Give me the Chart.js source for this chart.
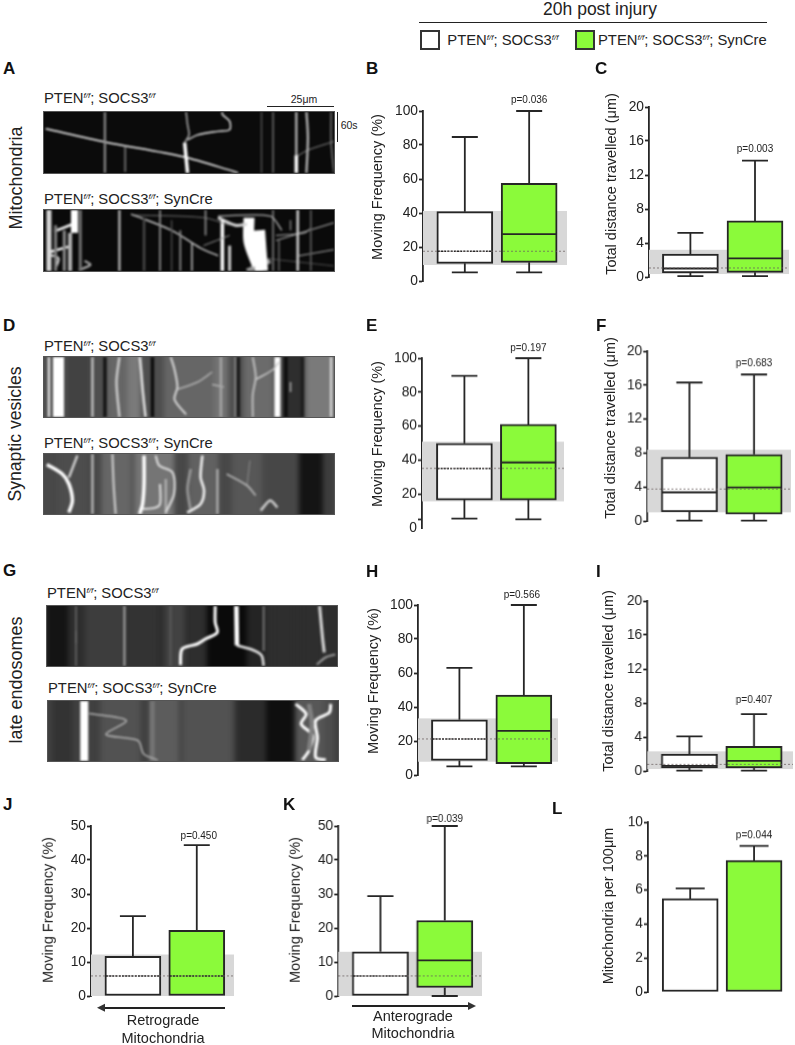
<!DOCTYPE html>
<html>
<head>
<meta charset="utf-8">
<title>20h post injury</title>
<script src="https://cdn.jsdelivr.net/npm/chart.js@4"></script>
<style>
  html, body { margin: 0; padding: 0; background: #fff; }
  body { position: relative; width: 795px; height: 1045px; overflow: hidden; font-family: "Liberation Sans", Arial, sans-serif; color: #222; }
  canvas { position: absolute; }
  .t { position: absolute; white-space: nowrap; transform: translateY(-50%); line-height: 1; }
  .c { transform: translate(-50%, -50%); }
  .r { transform: translate(-50%, -50%) rotate(-90deg); }
  .letter { font-weight: bold; font-size: 17px; color: #111; }
  .geno { font-size: 14.8px; }
  .geno sup { font-size: 8px; font-style: italic; vertical-align: 5px; line-height: 0; }
  .kymo { position: absolute; box-sizing: content-box; border: 1px solid #555; overflow: hidden; }
  .kymo canvas.tracks { filter: blur(1px); }
  .kymo canvas.stripes { filter: blur(2.5px); }
  .rule { position: absolute; background: #222; }
  .swatch { position: absolute; box-sizing: border-box; width: 20px; height: 20px; border: 2px solid #333; }
</style>
</head>
<body>
<script>
// colours
const DARK = '#262626';
const GREEN = '#8BFA3A';
const BAND = '#d8d8d8';

// y axis ticks
const freqTicks = [0, 20, 40, 60, 80, 100];
const freqTicksE = [0, 5, 20, 40, 60, 80, 100];
const distTicks = [0, 4, 8, 12, 16, 20];
const dirTicks = [0, 10, 20, 30, 40, 50];
const mitoTicks = [0, 2, 4, 6, 8, 10];

// box values: low whisker, q1, median, q3, high whisker
const bCtrl = [5.1, 10.4, 17.5, 40.8, 84.7];
const bCre = [5.1, 11, 27.6, 57.5, 100];
const cCtrl = [0.1, 0.47, 1.0, 2.7, 5.2];
const cCre = [0.1, 0.55, 2.2, 6.6, 13.7];
const eCtrl = [5.5, 16.5, 35.1, 49.8, 89.6];
const eCre = [5.1, 16.5, 38.6, 61, 100];
const fCtrl = [0.05, 1.06, 3.37, 7.5, 16.3];
const fCre = [0.05, 0.82, 3.96, 7.84, 17.25];
const hCtrl = [5.1, 8.6, 21.2, 32.5, 63];
const hCre = [5.1, 6.7, 26, 47, 100];
const iCtrl = [0.05, 0.35, 0.6, 2.0, 4.08];
const iCre = [0.05, 0.35, 1.2, 2.9, 6.7];
const jCtrl = [null, 0, 5.9, 11.7, 23.5];
const jCre = [null, 0, 5.9, 19.3, 44.4];
const kCtrl = [null, 0, 5.9, 13, 29.4];
const kCre = [0, 2.5, 10.5, 22.2, 50];

// control group spread behind the boxes: q1, median, q3
const bBand = [9.4, 17.5, 41.2];
const cBand = [0.35, 1.06, 3.2];
const eBand = [15.7, 35.1, 50.8];
const fBand = [1.02, 3.76, 8.39];
const hBand = [7.8, 21.2, 33.3];
const iBand = [0.23, 0.78, 2.31];
const jBand = [0, 5.9, 12.2];
const kBand = [0, 5.9, 13];

// panel L: mean and error top
const lMeans = [5.5, 7.75];
const lErrors = [6.1, 8.6];

// kymograph tracks: [% of axon length, seconds]
const a1Tracks = [
  [[21,0],[21,120]], [[28,68],[28,118]], [[49,0],[49.5,25],[50,45],[48.5,60]], [[48.5,60],[49,90],[49.5,120]],
  [[49.5,55],[53,45],[60,38],[64,35],[64,18],[61.5,5],[61.5,0]], [[0.6,33],[21,59],[48,88],[65.5,117],[67,120]],
  [[75,0],[75,120]], [[79,0],[79,120]], [[87,0],[87,85]], [[87,85],[87,120]], [[90.5,0],[91,50],[90.5,120]],
  [[99,0],[99,60],[100,120]], [[87,88],[91,75],[100,58]]
];
const a1Widths = [2.2, 1.8, 1.4, 3.5, 1.4, 1.4, 1.3, 1.6, 2.2, 3.5, 2.2, 1.4, 0.9];
const a1Grays = [0.55, 0.45, 0.75, 1, 0.95, 1, 0.35, 0.42, 0.75, 1, 0.75, 0.5, 0.6];

const a2Tracks = [
  [[1.7,0],[1.7,120]], [[4,30],[4,120]], [[7,40],[7,120]], [[10.5,0],[10.5,45]], [[9,45],[9,120]], [[3.5,42],[9.8,28]], [[2.3,82],[8.6,72]],
  [[12.5,0],[12.5,120]], [[2,88],[5,95],[4,115]], [[14,100],[16,108],[12,118]], [[26,0],[26,120]], [[34.5,15],[34.5,120]],
  [[40,0],[40,120]], [[44,20],[44,120]], [[47,40],[47,120]], [[51,65],[51,120]], [[55.7,0],[55.7,50]], [[30,8],[44,40],[54,75],[60,90]],
  [[31,10],[55,15],[64,30]], [[55,70],[64,50]], [[61.5,20],[61.5,120]], [[64,70],[64,120]], [[60,15],[66,30],[70,28]], [[70.7,15],[70.7,62],[73.6,109]],
  [[74,40],[75,120]], [[70,120],[78,100]], [[60,12],[78,12],[82,40]], [[79,0],[79,120]], [[81,60],[81,120]], [[87.5,0],[87.5,120]], [[85,20],[85,40]], [[92,0],[92,120]],
  [[80,60],[100,25]], [[80,50],[90,45],[92,35]], [[88,90],[100,78]], [[76,95],[100,110]]
];
const a2Widths = [5, 3, 3, 7, 4, 2.5, 2.5, 3, 2, 2, 2.2, 2.5, 1.8, 1.4, 1.8, 1.8, 1.8, 1.4, 0.9, 1, 3.5, 3, 3, 11, 13, 5, 1.3, 1.8, 1.8, 2.6, 1.5, 1.8, 1, 1, 1, 0.8];
const a2Grays = [0.85, 0.5, 0.55, 1, 0.7, 1, 1, 0.45, 0.9, 0.7, 0.75, 0.28, 0.55, 0.3, 0.55, 0.65, 0.55, 0.8, 0.5, 0.6, 1, 0.8, 0.85, 1, 1, 0.6, 0.7, 0.45, 0.35, 0.8, 0.5, 0.35, 0.75, 0.7, 0.7, 0.4];

const d1Tracks = [
  [[21,0],[21,120]], [[37.4,0],[37.4,120]], [[67,0],[67,120]], [[83.4,0],[83.4,120]], [[89,0],[89,120]], [[5,0],[5,120]], [[1.7,0],[1.7,120]], [[16.7,0],[16.7,120]], [[26,0],[25,50],[26,120]],
  [[33,0],[33.5,30],[34,65],[35,120]], [[43.7,0],[45,25],[46,60],[45,85],[49,115]], [[46,65],[53,50],[58,30]], [[61,0],[61,120]],
  [[58,55],[62,60]], [[66,0],[66,120]], [[72,0],[73,40],[72,75],[72,120]], [[73,45],[79,25],[81,10]], [[80.5,0],[80.5,120]], [[99,0],[99,120]], [[85,50],[85,70]]
];
const d1Widths = [3.5, 3.5, 3.5, 3.5, 3, 11, 2.5, 2.5, 2.5, 2.5, 2, 1.5, 2.5, 1.5, 1.8, 2, 1.5, 6, 2.5, 1.5];
const d1Grays = [0.08, 0.05, 0.1, 0.05, 0.1, 1, 0.9, 0.75, 0.8, 0.9, 0.85, 0.7, 0.65, 0.7, 0.55, 0.75, 0.8, 1, 0.85, 0.7];
const d1StripeX = [12, 25, 31, 50, 60, 74, 86, 95];
const d1StripeW = [24, 20, 14, 50, 20, 30, 22, 30];
const d1StripeG = [0.26, 0.4, 0.48, 0.4, 0.45, 0.42, 0.18, 0.48];

const d2Tracks = [
  [[1,21],[6.3,40],[8.6,60],[9.8,93],[8.6,117]], [[11.5,3],[8.6,47]], [[16.7,0],[16.7,120]],
  [[23.6,0],[24,60],[24.7,120]], [[34.5,3],[34.5,60],[34,100],[33,120]], [[33,110],[38,108],[40,100],[40,60]], [[38.5,3],[39.7,23],[44.3,37],[44.8,80],[42,117]],
  [[42,50],[42,120]], [[54.6,3],[54,47],[55.2,73],[54,100],[49.4,117]], [[50.6,30],[49.5,70],[50.5,110]], [[59.8,30],[59.8,120]], [[63,40],[70,63],[73,83]],
  [[71,13],[70,63]], [[74.7,113],[78,93],[80.5,107]]
];
const d2Widths = [3.5, 2.2, 2.5, 2.2, 3.5, 2.2, 2.2, 2.2, 2.6, 2.6, 2.2, 1.8, 1.3, 2.6];
const d2Grays = [1, 0.85, 0.7, 0.8, 1, 0.85, 0.85, 0.7, 0.95, 0.6, 0.7, 0.7, 0.5, 0.8];
const d2StripeX = [10, 25, 38, 55, 70, 82, 92, 98];
const d2StripeW = [30, 30, 40, 30, 30, 24, 24, 16];
const d2StripeG = [0.3, 0.4, 0.46, 0.38, 0.34, 0.28, 0.08, 0.24];

const g1Tracks = [
  [[10,0],[10,120]], [[10,50],[10,75]], [[26.7,0],[26.7,120]], [[42.6,0],[42.6,120]],
  [[58,0],[58,33],[58.7,53],[54.6,66],[51.8,76],[46.6,86],[46,118]], [[65.3,0],[65.5,79]], [[65.5,79],[71,88],[74,99],[74.7,120]], [[74.7,0],[74.7,90]],
  [[94,0],[95,63],[95.6,93]], [[93,117],[96,103],[99.4,97]]
];
const g1Widths = [1.8, 2, 2, 3, 3, 4.5, 2.5, 2, 3, 2];
const g1Grays = [0.38, 0.6, 0.65, 0.32, 1, 1, 0.9, 0.45, 0.85, 0.6];
const g1StripeX = [3, 20, 33, 44, 62, 72, 82, 92];
const g1StripeW = [25, 40, 30, 20, 40, 20, 20, 20];
const g1StripeG = [0.08, 0.24, 0.2, 0.26, 0.04, 0.14, 0.18, 0.18];

const g2Tracks = [
  [[12.5,0],[12.5,120]], [[14.2,25],[27,39],[20,67],[31,79],[33,106],[37.8,118]],
  [[36,0],[36,120]], [[90,6],[91,46],[90,99]], [[85.4,6],[89,26],[87.3,46],[91.3,69],[90,99],[87.7,118]],
  [[97.5,6],[97,23],[92.3,39],[92.9,73],[92.3,113],[95.8,118]]
];
const g2Widths = [8, 1.5, 5, 4.5, 3, 3];
const g2Grays = [1, 0.7, 0.45, 0.5, 1, 1];
const g2StripeX = [5, 25, 40, 55, 70, 80, 90, 97];
const g2StripeW = [20, 40, 30, 50, 30, 30, 30, 10];
const g2StripeG = [0.2, 0.32, 0.36, 0.32, 0.17, 0.06, 0.34, 0.3];

// draw whiskers, medians and the shaded control range through the y scale
const boxMarks = {
  id: 'boxMarks',
  beforeDatasetsDraw(chart, args, o) {
    if (!o.band) return;
    const { ctx, chartArea: a, scales: { y } } = chart;
    const top = y.getPixelForValue(o.band[2]), bot = y.getPixelForValue(o.band[0]);
    ctx.fillStyle = BAND;
    ctx.fillRect(a.left, top, a.right - a.left, bot - top);
  },
  afterDatasetsDraw(chart, args, o) {
    const { ctx, chartArea: a, scales: { x, y } } = chart;
    const px = v => y.getPixelForValue(v);
    ctx.save();
    ctx.strokeStyle = DARK;
    o.groups.forEach((g, i) => {
      const cx = x.getPixelForValue(i + 1);
      const hw = o.capWidth / 2;
      ctx.lineWidth = 1.8;
      ctx.beginPath();
      ctx.moveTo(cx, px(g[3])); ctx.lineTo(cx, px(g[4]));
      ctx.moveTo(cx - hw, px(g[4])); ctx.lineTo(cx + hw, px(g[4]));
      if (g[0] !== null) {
        ctx.moveTo(cx, px(g[1])); ctx.lineTo(cx, px(g[0]));
        ctx.moveTo(cx - hw, px(g[0])); ctx.lineTo(cx + hw, px(g[0]));
      }
      ctx.stroke();
      if (g[2] !== null) {
        // median that sits on the control median is dotted in the figure
        const onRef = o.band && g[2] === o.band[1];
        ctx.lineWidth = onRef ? 1.4 : 1.8;
        ctx.setLineDash(onRef ? [2, 1.2] : []);
        ctx.beginPath();
        ctx.moveTo(cx - 27, px(g[2])); ctx.lineTo(cx + 27, px(g[2]));
        ctx.stroke();
        ctx.setLineDash([]);
      }
    });
    if (o.band) {
      ctx.strokeStyle = 'rgba(105,95,95,0.75)';
      ctx.lineWidth = 1;
      ctx.setLineDash([2, 2]);
      ctx.beginPath();
      ctx.moveTo(a.left, px(o.band[1])); ctx.lineTo(a.right, px(o.band[1]));
      ctx.stroke();
      ctx.setLineDash([]);
    }
    // p value above the second group
    ctx.fillStyle = '#222';
    ctx.font = '10px "Liberation Sans", Arial, sans-serif';
    ctx.textAlign = 'center';
    ctx.textBaseline = 'middle';
    ctx.fillText(o.pLabel, x.getPixelForValue(2) + o.pShift, px(o.groups[1][4]) - o.pGap);
    ctx.restore();
  }
};

const AXIS_W = 60;
const PAD_T = 30, PAD_B = 10;

function addCanvas(left, top, w, h, parent) {
  const c = document.createElement('canvas');
  c.width = w; c.height = h;
  c.style.left = left + 'px'; c.style.top = top + 'px';
  c.style.width = w + 'px'; c.style.height = h + 'px';
  (parent || document.body).appendChild(c);
  return c;
}

// g: axis x, right end of plot, y pixel of axis max, y pixel of 0, centres of the two boxes
function boxPanel(groups, band, ticks, yMax, pLabel, g) {
  const unit = g.c2 - g.c1;
  const w = AXIS_W + (g.right - g.axis) + 2;
  const h = PAD_T + (g.bottom - g.top) + PAD_B;
  const cv = addCanvas(g.axis - AXIS_W, g.top - PAD_T, w, h);
  new Chart(cv, {
    type: 'bar',
    plugins: [boxMarks],
    data: {
      datasets: [{
        data: groups.map((v, i) => ({ x: i + 1, y: [v[1], v[3]] })),
        backgroundColor: ['#ffffff', GREEN],
        borderColor: DARK,
        borderWidth: 2,
        borderSkipped: false,
        barThickness: 56
      }]
    },
    options: {
      responsive: false,
      animation: false,
      layout: { padding: { top: PAD_T, bottom: PAD_B, right: 2, left: 0 } },
      plugins: {
        legend: { display: false },
        tooltip: { enabled: false },
        boxMarks: { groups, band, pLabel, capWidth: g.cap || 26, pGap: g.pGap, pShift: g.pShift || 0 }
      },
      scales: {
        x: {
          type: 'linear', display: false, offset: false,
          min: 1 - (g.c1 - g.axis) / unit,
          max: 2 + (g.right - g.c2) / unit
        },
        y: {
          min: 0, max: yMax,
          afterFit: s => { s.width = AXIS_W; },
          afterBuildTicks: s => { s.ticks = ticks.map(v => ({ value: v })); },
          border: { color: DARK, width: 1.8 },
          grid: {
            drawOnChartArea: false, tickLength: 4, tickWidth: 1.8,
            // panel E has its bottom tick mark above the 0 label
            tickColor: c => (ticks === freqTicksE && c.tick.value === 0 ? 'transparent' : DARK)
          },
          ticks: {
            color: '#222', padding: 1, autoSkip: false,
            font: { family: '"Liberation Sans", Arial, sans-serif', size: 13.8 },
            callback: v => (ticks === freqTicksE && v === 5 ? '' : v)
          }
        }
      }
    }
  });
}

function trackChart(cv, tracks, widths, grays) {
  new Chart(cv, {
    type: 'line',
    data: {
      datasets: tracks.map((t, i) => {
        const v = Math.round(grays[i] * 255);
        return {
          data: t.map(p => ({ x: p[0], y: p[1] })),
          borderColor: `rgb(${v},${v},${v})`,
          borderWidth: widths[i],
          pointRadius: 0,
          tension: 0.3
        };
      })
    },
    options: {
      responsive: false,
      animation: false,
      plugins: { legend: { display: false }, tooltip: { enabled: false } },
      scales: {
        x: { type: 'linear', display: false, min: 0, max: 100 },
        y: { display: false, min: 0, max: 120, reverse: true }
      }
    }
  });
}

function kymo(tracks, widths, grays, bg, g, stripeX, stripeW, stripeG) {
  const wrap = document.createElement('div');
  wrap.className = 'kymo';
  wrap.style.cssText = `left:${g.left}px;top:${g.top}px;width:${g.w}px;height:${g.h}px;background:${bg}`;
  document.body.appendChild(wrap);
  if (stripeX) {
    // wide soft background bands, canvas overshoots so the blur does not fade at the edges
    const sc = addCanvas(0, -8, g.w, g.h + 16, wrap);
    sc.className = 'stripes';
    trackChart(sc, stripeX.map(x => [[x, 0], [x, 120]]), stripeW, stripeG);
  }
  const cv = addCanvas(0, 0, g.w, g.h, wrap);
  cv.className = 'tracks';
  trackChart(cv, tracks, widths, grays);
}

kymo(a1Tracks, a1Widths, a1Grays, '#0b0b0b', { left: 43, top: 111, w: 290, h: 61 });
kymo(a2Tracks, a2Widths, a2Grays, '#0a0a0a', { left: 43, top: 209, w: 290, h: 61 });
kymo(d1Tracks, d1Widths, d1Grays, '#4f4f4f', { left: 43, top: 356, w: 290, h: 60 }, d1StripeX, d1StripeW, d1StripeG);
kymo(d2Tracks, d2Widths, d2Grays, '#484848', { left: 43, top: 453, w: 290, h: 60 }, d2StripeX, d2StripeW, d2StripeG);
kymo(g1Tracks, g1Widths, g1Grays, '#2e2e2e', { left: 46, top: 605, w: 290, h: 60 }, g1StripeX, g1StripeW, g1StripeG);
kymo(g2Tracks, g2Widths, g2Grays, '#404040', { left: 47, top: 700, w: 290, h: 60 }, g2StripeX, g2StripeW, g2StripeG);

boxPanel([bCtrl, bCre], bBand, freqTicks, 100, 'p=0.036', { axis: 422.7, right: 567.3, top: 111, bottom: 281, c1: 464.7, c2: 529.3, pGap: 11 });
boxPanel([cCtrl, cCre], cBand, distTicks, 20, 'p=0.003', { axis: 649.3, right: 789.3, top: 107.3, bottom: 277.3, c1: 690.7, c2: 755.3, pGap: 11 });
boxPanel([eCtrl, eCre], eBand, freqTicksE, 100, 'p=0.197', { axis: 421.7, right: 564, top: 358.3, bottom: 528.3, c1: 464.2, c2: 528.3, pGap: 10 });
boxPanel([fCtrl, fCre], fBand, distTicks, 20, 'p=0.683', { axis: 647.3, right: 790.7, top: 351.3, bottom: 521.3, c1: 689.3, c2: 753.8, pGap: 11 });
boxPanel([hCtrl, hCre], hBand, freqTicks, 100, 'p=0.566', { axis: 417.7, right: 558.3, top: 605, bottom: 775, c1: 459.3, c2: 524, pGap: 10, pShift: -2 });
boxPanel([iCtrl, iCre], iBand, distTicks, 20, 'p=0.407', { axis: 647.3, right: 792.7, top: 601.3, bottom: 771.3, c1: 689.3, c2: 753.8, pGap: 14 });
boxPanel([jCtrl, jCre], jBand, dirTicks, 50, 'p=0.450', { axis: 90.7, right: 234, top: 825.7, bottom: 996, c1: 132.7, c2: 196.7, pGap: 9, pShift: 2 });
boxPanel([kCtrl, kCre], kBand, dirTicks, 50, 'p=0.039', { axis: 338.3, right: 481.7, top: 825.7, bottom: 995.7, c1: 380.3, c2: 444.5, pGap: 7 });
boxPanel(
  [[null, 0, null, lMeans[0], lErrors[0]], [null, 0, null, lMeans[1], lErrors[1]]],
  null, mitoTicks, 10, 'p=0.044',
  { axis: 647.7, right: 784, top: 822.3, bottom: 992, c1: 690, c2: 754, cap: 29, pGap: 10 }
);

// text and small furniture around the charts
const SUP = '<sup>f/f</sup>';
const GENO1 = `PTEN${SUP}; SOCS3${SUP}`;
const GENO2 = `PTEN${SUP}; SOCS3${SUP}; SynCre`;

function text(html, x, y, cls, css) {
  const d = document.createElement('div');
  d.className = 't ' + (cls || '');
  d.innerHTML = html;
  d.style.left = x + 'px';
  d.style.top = y + 'px';
  if (css) d.style.cssText += css;
  document.body.appendChild(d);
}
function rule(x, y, w, h) {
  const d = document.createElement('div');
  d.className = 'rule';
  d.style.cssText = `left:${x}px;top:${y}px;width:${w}px;height:${h}px`;
  document.body.appendChild(d);
}

text('20h post injury', 600, 10, 'c', 'font-size:17.5px');
rule(419.3, 21.6, 347.4, 1.5);
[[419.7, '#fff'], [575, GREEN]].forEach(s => {
  const d = document.createElement('div');
  d.className = 'swatch';
  d.style.cssText = `left:${s[0]}px;top:29.5px;background:${s[1]}`;
  document.body.appendChild(d);
});
text(GENO1, 447.3, 40, 'geno');
text(GENO2, 598, 40, 'geno');

[['A', 3, 68], ['B', 366, 68], ['C', 595, 68], ['D', 3, 325], ['E', 366, 325], ['F', 596, 325],
 ['G', 3, 570], ['H', 366, 571], ['I', 596, 571], ['J', 3, 804], ['K', 283, 804], ['L', 552, 808]]
  .forEach(l => text(l[0], l[1], l[2], 'letter'));

text(GENO1, 44, 98, 'geno');
text(GENO2, 44, 199.3, 'geno');
text(GENO1, 44, 346, 'geno');
text(GENO2, 44, 443.3, 'geno');
text(GENO1, 47, 593.3, 'geno');
text(GENO2, 48, 688.3, 'geno');

text('Mitochondria', 16, 178, 'r', 'font-size:18px');
text('Synaptic vesicles', 16, 434, 'r', 'font-size:17.6px');
text('late endosomes', 16, 680, 'r', 'font-size:18px');

// scale bars on the first kymograph
rule(266.7, 105.5, 67.3, 1.3);
text('25&#956;m', 304, 98.7, 'c', 'font-size:10.5px');
rule(337.2, 111.7, 1.2, 30);
text('60s', 340.7, 125, '', 'font-size:10.5px');

// axis titles
const FREQ = 'Moving Frequency (%)';
const DIST = 'Total distance travelled (&#956;m)';
[[FREQ, 377.3, 187], [DIST, 610.7, 184], [FREQ, 376.7, 434], [DIST, 610, 428], [FREQ, 372.7, 681],
 [DIST, 608.3, 680.5], [FREQ, 47.7, 910], [FREQ, 295, 910], ['Mitochondria per 100&#956;m', 608.3, 906]]
  .forEach(a => text(a[0], a[1], a[2], 'r', 'font-size:14.5px'));

// direction arrows under J and K
rule(103, 1007, 122, 1.5);
rule(352, 1005.4, 117, 1.5);
text('Retrograde', 163, 1020, 'c', 'font-size:14.5px');
text('Mitochondria', 163, 1038, 'c', 'font-size:14.5px');
text('Anterograde', 413, 1015.7, 'c', 'font-size:14.5px');
text('Mitochondria', 413, 1033, 'c', 'font-size:14.5px');
document.body.insertAdjacentHTML('beforeend',
  '<svg width="795" height="1045" style="position:absolute;left:0;top:0;pointer-events:none">' +
  '<polygon points="97,1007.7 105,1003.7 105,1011.7" fill="#333"/>' +
  '<polygon points="476,1006 468,1002 468,1010" fill="#333"/></svg>');
</script>
</body>
</html>
